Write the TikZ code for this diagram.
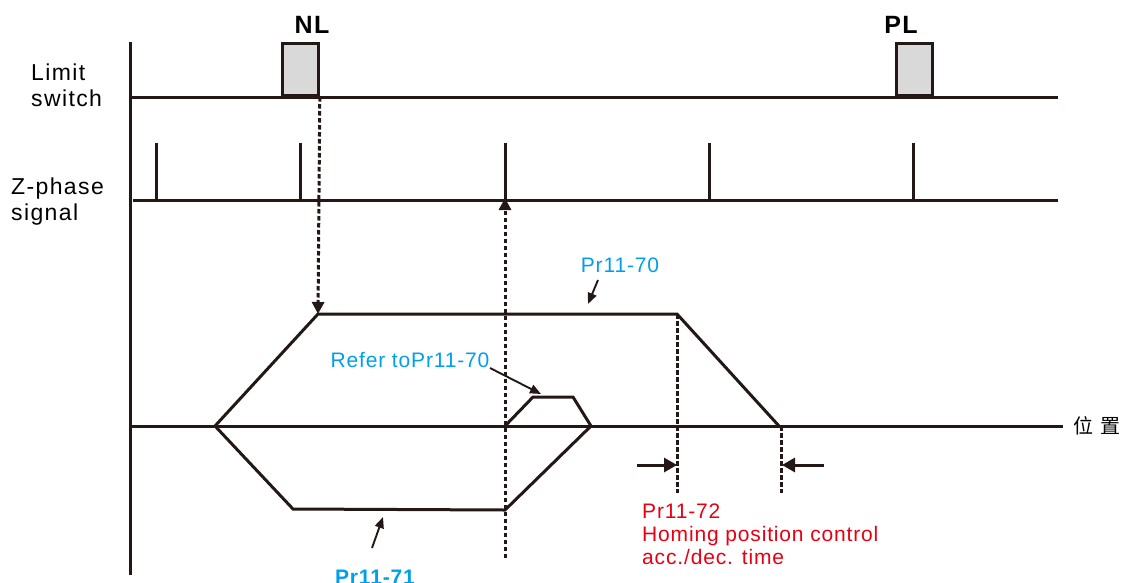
\documentclass[tikz,border=0pt]{standalone}
\usepackage{fontspec}
\setmainfont{Liberation Sans}
\newfontfamily\cjk{Noto Sans CJK SC}
\usetikzlibrary{arrows.meta}
\definecolor{parblue}{RGB}{0,160,233}
\definecolor{parred}{RGB}{230,0,18}
\definecolor{ink}{RGB}{35,24,21}
\tikzset{
  axisline/.style={line width=3pt,ink},
  prof/.style={line width=3pt,ink,line join=miter},
  guide/.style={line width=3pt,ink,dash pattern=on 4.5pt off 2.5pt},
  bigtip/.style={-{Triangle[length=12pt,width=12pt]}},
  hztip/.style={-{Triangle[length=13pt,width=14pt]}},
  ptr/.style={line width=1.9pt,ink,-{Triangle[length=11pt,width=9pt]}},
  switchbox/.style={draw=ink,line width=2.8pt,fill=black!15,minimum width=36pt,minimum height=52pt,inner sep=0pt},
  lbl/.style={font=\fontsize{23}{26}\selectfont\addfontfeature{LetterSpace=6},align=left,inner sep=0pt},
  parlbl/.style={font=\fontsize{21}{23}\selectfont\addfontfeature{LetterSpace=4},inner sep=0pt},
  limlbl/.style={font=\bfseries\fontsize{25}{28}\selectfont\addfontfeature{LetterSpace=6},inner sep=0pt}
}
\begin{document}
\begin{tikzpicture}[x=1pt,y=-1pt]
\useasboundingbox (0,0) rectangle (1128,582);
% time axis and signal lines
\draw[axisline] (130,42) -- (130,575);
\coordinate (ls0) at (130,97);
\coordinate (ls1) at (1058,97);
\coordinate (zs0) at (133,200);
\coordinate (zs1) at (1058,200);
\coordinate (ps0) at (130,426);
\coordinate (ps1) at (1063,426);
\draw[axisline] (ls0) -- (ls1);
\draw[axisline] (zs0) -- (zs1);
\draw[axisline] (ps0) -- (ps1);
% row labels
\node[lbl,anchor=west] (limit) at (31,85) {Limit\\switch};
\node[lbl,anchor=west] (zphase) at (11,202) {Z-phase\\signal};
\node[font=\cjk\fontsize{20}{24}\selectfont,anchor=west,inner sep=0pt] (pos) at (1073,426) {位\hspace{7pt}置};
% limit switches
\node[switchbox,anchor=south west] (NLbox) at (281,97) {};
\node[switchbox,anchor=south west] (PLbox) at (895,97) {};
\node[limlbl] (NL) at (312,25) {NL};
\node[limlbl] (PL) at (901,25) {PL};
% Z-phase pulses
\foreach \x [count=\i] in {156,300,505,709,913} {
  \coordinate (z\i) at (\x,200);
  \draw[axisline] (z\i) -- (\x,143);
}
% speed profile
\coordinate (s0) at (215,426);
\coordinate (a1) at (318,314);
\coordinate (a2) at (677,314);
\coordinate (a3) at (779,426);
\coordinate (b1) at (293,509);
\coordinate (b2) at (505,510);
\coordinate (b3) at (591,426);
\coordinate (c0) at (505,426);
\coordinate (c1) at (533,397);
\coordinate (c2) at (573,397);
\draw[prof] (s0) -- (a1) -- (a2) -- (a3);
\draw[prof] (s0) -- (b1) -- (b2) -- (b3);
\draw[prof] (c0) -- (c1) -- (c2) -- (b3);
% guides
\draw[guide,bigtip] (NLbox.south east) -- (a1);
\coordinate (zup) at (505,558);
\draw[guide,bigtip] (zup) -- ([yshift=2pt]z3);
\coordinate (d1) at (677,493);
\coordinate (d2) at (781,493);
\draw[guide] (a2) -- (d1);
\draw[guide] ([xshift=2pt]a3) -- (d2);
\coordinate (t1) at (637,465);
\coordinate (t2) at (824,465);
\draw[line width=3pt,ink,hztip] (t1) -- (677,465);
\draw[line width=3pt,ink,hztip] (t2) -- (782,465);
% parameter labels
\node[parlbl,text=parblue] (p70) at (620,265) {Pr11-70};
\coordinate (p70s) at (598,280);
\coordinate (p70e) at (588,304);
\draw[ptr] (p70s) -- (p70e);
\node[parlbl,text=parblue] (ref70) at (410,360) {Refer toPr11-70};
\coordinate (r70s) at (490,368);
\coordinate (r70e) at (541,394);
\draw[ptr] (r70s) -- (r70e);
\node[parlbl,font=\bfseries\fontsize{21}{23}\selectfont\addfontfeature{LetterSpace=4},text=parblue] (p71) at (375,577) {Pr11-71};
\coordinate (p71s) at (372,548);
\coordinate (p71e) at (383,517);
\draw[ptr] (p71s) -- (p71e);
\node[parlbl,text=parred,align=left,anchor=north west] (p72) at (642,504) {Pr11-72\\Homing position control\\acc./dec. time};
\end{tikzpicture}
\end{document}
